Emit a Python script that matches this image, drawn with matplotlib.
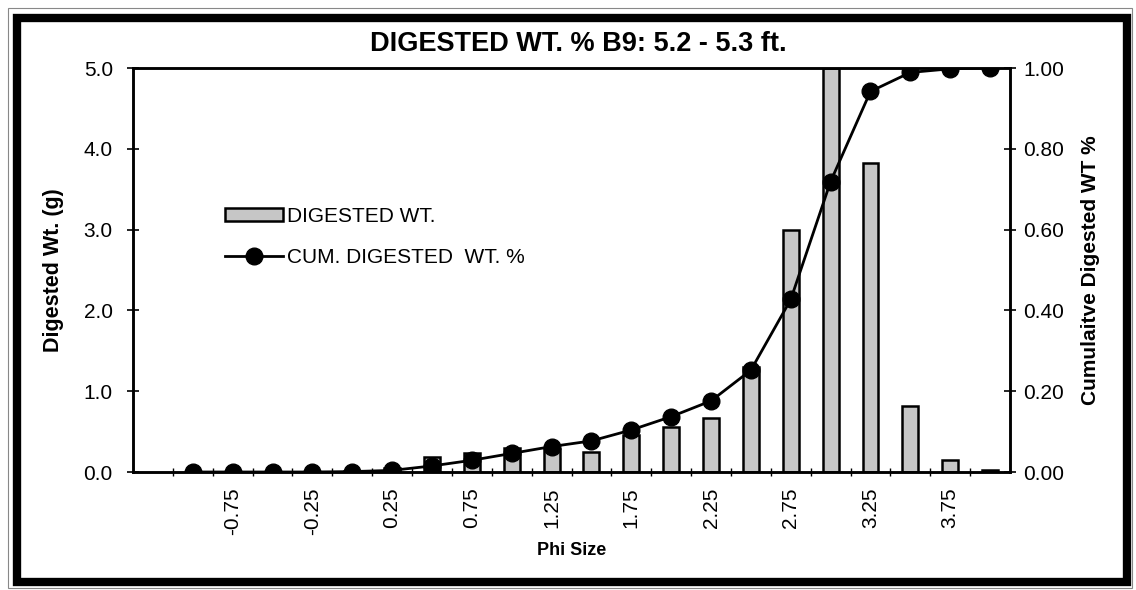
import matplotlib
matplotlib.use("Agg")
import matplotlib.pyplot as plt
from matplotlib.patches import Rectangle
import numpy as np

plt.rcParams["font.family"] = ["Liberation Sans", "DejaVu Sans"]

# Phi size classes and digested weights (g) per class
phi = [-1.0, -0.75, -0.5, -0.25, 0.0, 0.25, 0.5, 0.75, 1.0, 1.25, 1.5,
       1.75, 2.0, 2.25, 2.5, 2.75, 3.0, 3.25, 3.5, 3.75, 4.0]
digested_wt = [0.0, 0.0, 0.0, 0.0, 0.01, 0.05, 0.19, 0.24, 0.30, 0.28, 0.25,
               0.46, 0.56, 0.67, 1.30, 3.00, 5.00, 3.82, 0.82, 0.15, 0.03]
# cumulative digested weight fraction
cum_wt = [0.0, 0.0, 0.0, 0.0, 0.001, 0.004, 0.015, 0.029, 0.046, 0.063, 0.077,
          0.104, 0.137, 0.176, 0.252, 0.427, 0.719, 0.942, 0.989, 0.998, 1.0]

left_ticks = [0.0, 1.0, 2.0, 3.0, 4.0, 5.0]
right_ticks = [0.0, 0.2, 0.4, 0.6, 0.8, 1.0]

fig = plt.figure(figsize=(11.36, 5.90), dpi=100)
ax = fig.add_axes([133 / 1136, 1 - 472 / 590, 877 / 1136, 404 / 590])
ax2 = ax.twinx()

x = np.arange(len(phi))

bars = ax.bar(x, digested_wt, width=0.40, color="#c6c6c6", edgecolor="black",
              linewidth=1.8, label="DIGESTED WT.", zorder=2)
line, = ax2.plot(x, cum_wt, color="black", lw=2.0, marker="o", markersize=12,
                 label="CUM. DIGESTED  WT. %", zorder=3)

ax.set_xlim(-1.5, len(phi) - 0.5)
ax.set_ylim(0, 5.0)
ax2.set_ylim(0, 1.0)

# labels on every other class, tick marks between classes
lab_idx = x[1::2]
ax.set_xticks(lab_idx)
ax.set_xticklabels(["%.2f" % phi[i] for i in lab_idx], rotation=90)
ax.tick_params(axis="x", which="major", length=0, pad=11, labelsize=15)
ax.set_xticks(np.arange(-0.5, len(phi) - 0.5, 1.0), minor=True)
ax.tick_params(axis="x", which="minor", direction="inout", length=6, width=1)

ax.set_yticks(left_ticks)
ax.set_yticklabels(["%.1f" % v for v in left_ticks])
ax.tick_params(axis="y", direction="inout", length=9, width=1.2,
               labelsize=15, pad=10)
ax2.set_yticks(right_ticks)
ax2.set_yticklabels(["%.2f" % v for v in right_ticks])
ax2.tick_params(axis="y", direction="inout", length=9, width=1.2,
                labelsize=15, pad=5)

for a in (ax, ax2):
    for s in a.spines.values():
        s.set_linewidth(1.8)

ax.set_xlabel("Phi Size", fontsize=13, fontweight="bold", labelpad=5)
ax.set_ylabel("Digested Wt. (g)", fontsize=15.5, fontweight="bold", labelpad=14)
ax2.set_ylabel("Cumulaitve Digested WT %", fontsize=15, fontweight="bold",
               labelpad=12)
fig.text(578 / 1136, 1 - 44 / 590, "DIGESTED WT. % B9: 5.2 - 5.3 ft.",
         fontsize=19.5, fontweight="bold", ha="center", va="center")

leg = ax2.legend([bars, line], ["DIGESTED WT.", "CUM. DIGESTED  WT. %"],
                 loc="upper left", bbox_to_anchor=(206 / 1136, 1 - 188 / 590),
                 bbox_transform=fig.transFigure, frameon=False, fontsize=15,
                 handlelength=2.8, handleheight=0.55, handletextpad=0.2,
                 labelspacing=1.05)

# outer chart border
fig.patches.append(Rectangle((17 / 1136, 8 / 590), 1110 / 1136, 564 / 590,
                             transform=fig.transFigure, fill=False,
                             edgecolor="black", linewidth=6))
fig.patches.append(Rectangle((8 / 1136, 2 / 590), 1124 / 1136, 580 / 590,
                             transform=fig.transFigure, fill=False,
                             edgecolor="#888888", linewidth=0.8))

fig.savefig("out.png", dpi=100)
